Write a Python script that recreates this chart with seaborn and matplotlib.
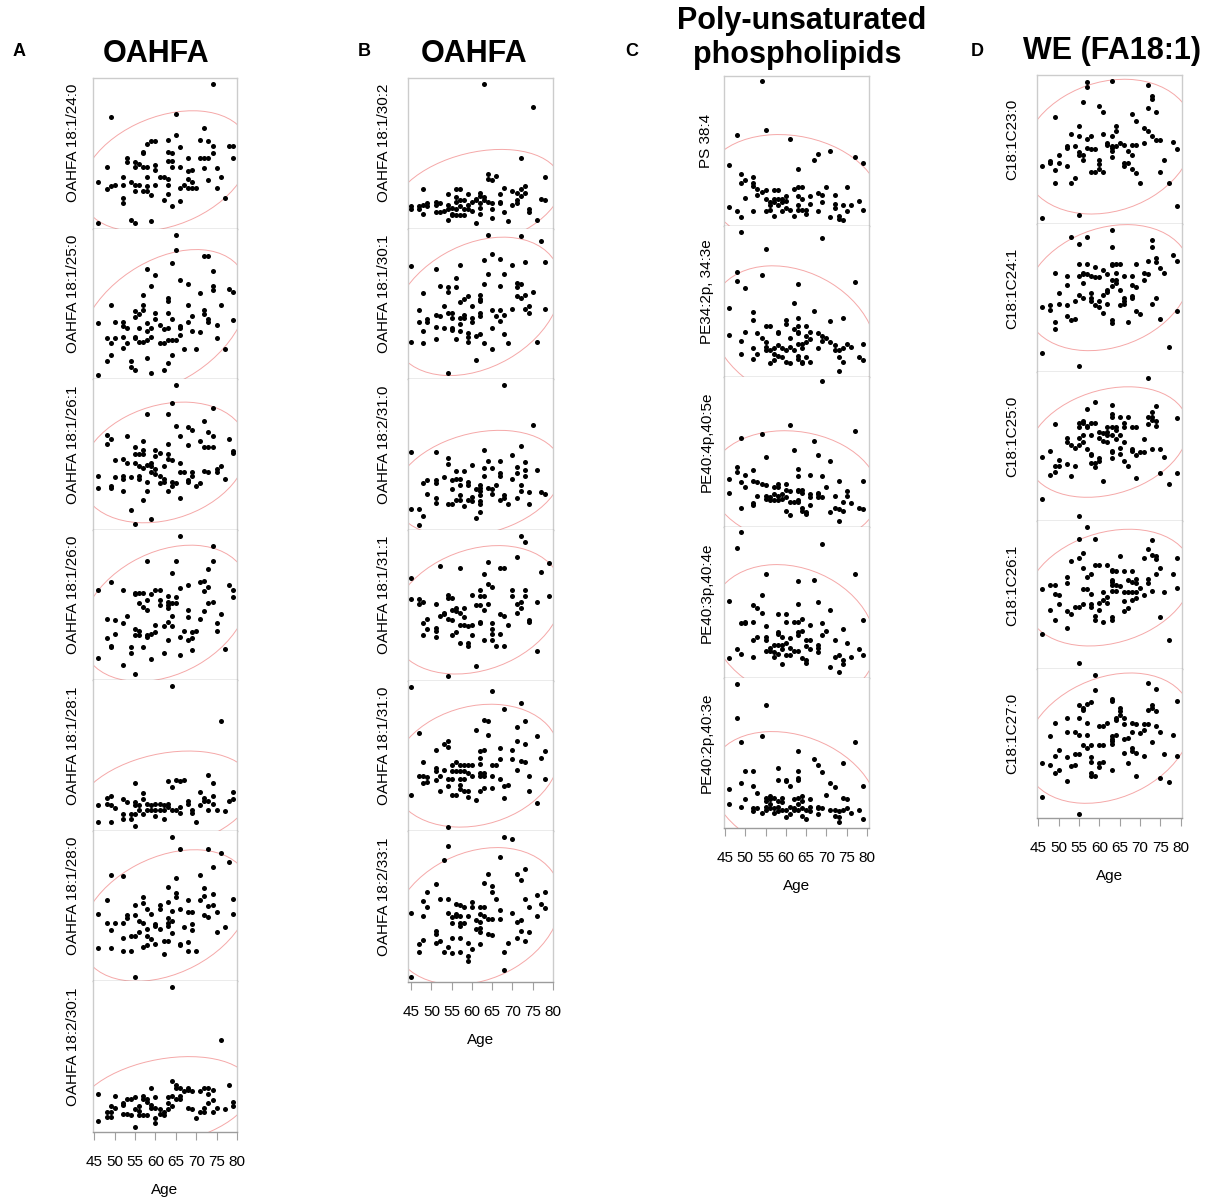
import numpy as np
import matplotlib
matplotlib.use("Agg")
import matplotlib.pyplot as plt
from matplotlib.patches import Ellipse
import seaborn as sns

# ---------------- data: (age, relative level 0-100) per panel ----------------
A1 = [(74,96),(49,74),(65,76),(72,67),(58,56),(59,58),(60,58),(63,59),(65,62),(66,54),(71,59),(73,58),(74,55),(78,55),(79,55),(57,50),(57,51),(53,47),(53,44),(63,51),(64,50),(63,45),(64,45),(68,47),(71,47),(72,47),(73,47),(74,50),(79,47),(48,41),(55,44),(56,43),(55,41),(57,41),(58,41),(60,42),(60,39),(64,41),(66,41),(69,39),(68,38),(72,40),(75,40),(52,34),(58,34),(61,34),(62,34),(63,33),(68,33),(69,31),(73,32),(76,34),(46,31),(50,29),(49,28),(48,26),(54,31),(55,29),(56,29),(58,28),(60,29),(63,29),(67,29),(52,29),(55,25),(57,25),(58,25),(66,27),(68,27),(69,27),(70,27),(75,27),(59,22),(62,19),(63,23),(52,20),(52,17),(64,15),(66,18),(77,20),(54,6),(55,4),(59,5),(46,4)]
A2 = [(65,96),(65,86),(72,82),(73,82),(64,77),(58,73),(60,69),(74,72),(66,66),(59,62),(68,63),(74,62),(74,59),(78,60),(79,58),(71,57),(57,56),(63,54),(63,52),(49,49),(57,49),(57,46),(68,49),(76,49),(55,45),(56,43),(55,41),(60,44),(63,44),(72,46),(72,43),(69,42),(68,38),(73,40),(73,38),(79,39),(60,40),(64,40),(46,37),(50,38),(52,38),(52,35),(53,34),(58,37),(61,36),(62,33),(66,35),(66,34),(56,34),(58,32),(59,34),(63,34),(69,32),(71,31),(75,36),(48,27),(49,24),(50,27),(52,28),(52,21),(53,24),(55,28),(55,27),(56,25),(57,25),(58,26),(59,28),(61,24),(62,24),(63,26),(64,26),(65,26),(66,29),(67,20),(70,20),(75,27),(77,20),(48,12),(49,16),(58,14),(54,12),(54,8),(55,6),(59,4),(62,6),(63,11),(64,16),(46,3)]
A3 = [(65,96),(64,84),(74,81),(58,77),(63,77),(72,72),(65,69),(68,68),(69,66),(73,65),(74,62),(66,62),(48,63),(49,60),(48,57),(53,62),(71,59),(78,60),(57,59),(55,55),(57,53),(63,57),(68,56),(72,55),(73,55),(74,55),(79,52),(79,51),(55,50),(56,50),(57,50),(60,53),(60,49),(61,51),(63,50),(63,47),(64,46),(50,46),(52,47),(53,44),(55,44),(56,42),(58,43),(59,44),(59,42),(57,41),(60,40),(60,37),(62,42),(66,44),(76,42),(75,40),(46,36),(50,35),(52,36),(52,34),(54,35),(56,36),(56,34),(59,38),(58,32),(61,36),(62,34),(62,32),(61,31),(64,32),(65,31),(64,29),(66,38),(67,38),(69,38),(69,36),(68,33),(68,32),(72,39),(73,38),(75,38),(77,34),(46,28),(49,29),(49,28),(52,26),(58,26),(63,26),(70,29),(71,31),(57,20),(66,21),(54,13),(59,7),(55,4)]
A4 = [(66,96),(74,89),(58,79),(65,79),(64,71),(74,79),(73,74),(71,65),(72,66),(46,60),(49,65),(52,60),(55,58),(55,57),(56,58),(57,58),(59,57),(60,60),(61,60),(66,61),(68,63),(72,59),(73,62),(78,63),(79,60),(79,55),(58,53),(56,51),(57,49),(58,47),(61,53),(61,50),(63,56),(63,52),(63,50),(63,48),(64,51),(65,51),(64,43),(65,55),(74,52),(73,51),(72,46),(76,44),(68,47),(68,42),(71,41),(48,41),(50,40),(52,38),(53,43),(60,37),(63,39),(64,36),(75,38),(75,33),(55,34),(56,33),(55,30),(56,30),(58,30),(58,29),(59,31),(60,32),(62,36),(67,33),(69,32),(70,33),(66,29),(68,27),(69,28),(63,27),(48,28),(49,23),(49,22),(50,31),(54,22),(54,18),(57,22),(69,20),(77,21),(62,18),(66,17),(59,14),(46,15),(52,10),(55,4)]
A5 = [(64,96),(76,73),(55,32),(63,33),(65,34),(66,33),(67,34),(64,29),(73,37),(74,32),(79,26),(78,20),(79,21),(71,26),(74,23),(72,22),(72,20),(73,20),(74,18),(48,22),(49,23),(48,18),(49,17),(50,15),(46,17),(52,21),(53,19),(52,11),(52,8),(55,19),(55,17),(57,25),(57,21),(56,17),(56,14),(58,18),(59,17),(60,18),(61,18),(62,17),(63,18),(63,16),(58,14),(59,14),(60,14),(61,14),(62,14),(64,14),(65,14),(66,16),(66,12),(68,20),(68,18),(69,14),(69,12),(71,17),(73,14),(75,14),(77,13),(54,11),(54,8),(57,11),(55,11),(60,10),(62,8),(46,6),(49,6),(70,6),(55,3)]
A6 = [(64,96),(66,88),(73,88),(76,85),(78,79),(74,76),(49,71),(52,70),(71,71),(65,69),(63,63),(72,62),(72,57),(74,58),(65,59),(65,56),(48,54),(57,56),(57,52),(61,51),(61,48),(63,53),(68,54),(71,54),(73,50),(74,51),(79,55),(79,45),(66,48),(68,46),(69,46),(64,47),(72,44),(73,43),(75,46),(46,45),(55,51),(55,44),(53,44),(53,42),(58,48),(59,45),(56,40),(57,39),(60,38),(60,37),(61,35),(63,42),(63,39),(64,40),(63,37),(48,39),(50,39),(52,39),(49,34),(67,36),(69,38),(69,34),(77,36),(75,33),(58,35),(58,30),(59,28),(60,25),(56,33),(55,30),(54,30),(52,29),(62,27),(63,27),(64,32),(66,25),(66,24),(68,26),(57,23),(58,24),(46,22),(49,22),(52,20),(54,20),(68,20),(70,20),(62,18),(55,3)]
A7 = [(64,96),(76,61),(68,28),(64,34),(65,31),(65,29),(78,31),(66,29),(67,27),(68,29),(59,29),(64,24),(63,23),(66,24),(66,22),(65,22),(69,27),(71,27),(72,29),(73,29),(74,28),(73,25),(74,21),(73,19),(46,25),(50,24),(52,19),(52,18),(53,22),(54,22),(55,23),(57,24),(57,22),(58,22),(58,20),(60,23),(59,18),(60,16),(49,17),(50,16),(48,13),(48,10),(49,13),(49,10),(52,12),(53,12),(54,11),(55,15),(56,17),(56,14),(56,11),(57,11),(58,11),(59,16),(61,15),(61,12),(62,11),(63,15),(62,13),(63,19),(64,17),(60,9),(60,6),(68,16),(69,15),(70,9),(71,13),(72,13),(72,16),(74,13),(75,16),(77,15),(79,20),(79,17),(46,7),(55,3)]

B1 = [(63,96),(75,81),(72,47),(64,36),(64,33),(65,32),(66,35),(78,34),(48,26),(67,23),(68,27),(70,25),(71,24),(72,26),(73,28),(73,24),(54,23),(56,26),(57,26),(56,21),(59,23),(61,20),(62,24),(62,22),(63,21),(45,15),(45,13),(47,15),(47,13),(48,16),(49,17),(49,15),(48,10),(51,18),(51,16),(52,17),(52,11),(51,11),(53,12),(54,13),(54,16),(55,14),(55,10),(56,18),(57,19),(56,13),(57,15),(57,9),(58,19),(58,13),(58,9),(59,16),(59,13),(60,18),(60,12),(61,19),(62,17),(62,14),(62,10),(63,19),(64,18),(65,17),(56,9),(55,9),(65,13),(65,7),(67,18),(67,17),(68,11),(70,16),(71,17),(71,19),(72,22),(74,13),(74,11),(77,20),(78,19),(54,6),(61,4),(69,5),(76,6)]
B2 = [(64,96),(72,95),(77,92),(45,75),(51,73),(57,76),(63,79),(65,83),(67,80),(70,76),(73,78),(78,78),(64,70),(68,70),(56,67),(63,63),(67,62),(52,62),(54,61),(54,58),(56,61),(48,57),(71,64),(72,63),(71,61),(71,55),(72,54),(75,58),(73,56),(62,56),(62,53),(62,52),(59,55),(58,53),(57,51),(60,49),(53,49),(47,46),(65,46),(67,46),(70,47),(73,47),(74,49),(74,44),(78,47),(51,43),(52,42),(54,44),(55,44),(55,41),(57,41),(58,43),(58,41),(60,41),(60,38),(62,44),(62,42),(66,42),(67,39),(68,43),(47,38),(49,40),(49,38),(51,35),(53,34),(55,34),(55,33),(57,37),(57,32),(48,32),(65,34),(68,30),(59,31),(59,28),(59,25),(61,29),(62,30),(51,27),(45,25),(48,24),(56,27),(63,24),(65,20),(69,24),(76,25),(61,13),(54,4)]
B3 = [(68,96),(75,70),(72,56),(45,52),(51,52),(63,53),(54,48),(54,44),(70,50),(73,45),(73,40),(73,36),(71,42),(71,38),(60,43),(64,46),(63,41),(65,41),(63,36),(67,46),(67,38),(67,36),(76,40),(56,39),(58,39),(57,34),(53,35),(48,31),(49,33),(51,33),(51,31),(55,33),(55,27),(56,34),(57,30),(59,32),(59,30),(62,30),(62,28),(62,26),(62,23),(61,27),(64,28),(65,27),(65,24),(66,30),(70,34),(72,30),(72,26),(74,25),(77,25),(78,24),(49,24),(51,21),(54,17),(55,17),(56,20),(57,23),(57,20),(58,16),(59,20),(60,19),(60,22),(51,18),(62,19),(62,17),(62,12),(67,20),(68,21),(68,23),(69,17),(71,21),(74,17),(61,8),(45,14),(47,14),(48,9),(47,3)]
B4 = [(72,96),(73,92),(71,82),(79,78),(52,76),(57,75),(64,79),(67,75),(68,75),(77,72),(63,71),(45,68),(64,64),(65,62),(62,60),(62,56),(63,56),(70,60),(70,56),(73,60),(73,56),(72,52),(79,56),(76,52),(54,57),(54,55),(55,55),(60,57),(45,54),(47,54),(47,51),(48,52),(51,51),(61,50),(62,50),(63,47),(64,51),(71,51),(72,48),(71,45),(55,47),(56,48),(56,46),(57,45),(58,48),(58,42),(53,45),(53,44),(52,43),(54,41),(55,40),(49,41),(48,38),(49,34),(67,44),(68,43),(69,37),(65,38),(62,39),(62,38),(60,37),(57,37),(58,37),(59,36),(56,32),(55,30),(51,35),(51,33),(51,29),(48,30),(60,30),(65,34),(65,31),(67,31),(74,40),(74,39),(57,25),(59,25),(59,23),(63,27),(65,27),(66,23),(68,23),(76,20),(61,10),(54,3)]
B5 = [(45,96),(65,93),(72,85),(68,81),(63,74),(64,73),(71,69),(73,73),(47,65),(61,67),(64,64),(76,63),(71,60),(73,58),(53,58),(54,60),(54,56),(51,54),(67,55),(70,54),(70,48),(62,53),(63,54),(62,49),(77,49),(78,53),(48,46),(72,47),(73,46),(55,44),(56,46),(57,44),(58,44),(59,44),(60,44),(62,45),(65,44),(66,44),(67,48),(51,42),(51,40),(53,41),(55,40),(56,40),(57,40),(58,40),(59,39),(60,37),(62,39),(62,37),(63,39),(63,37),(71,41),(47,37),(48,37),(49,36),(48,32),(49,33),(52,37),(51,34),(54,35),(55,35),(65,37),(74,37),(78,35),(57,35),(57,31),(58,35),(67,35),(54,30),(52,27),(57,28),(58,27),(59,27),(63,29),(62,27),(65,29),(68,30),(69,31),(74,27),(55,24),(56,24),(59,23),(61,21),(68,22),(45,24),(76,19),(54,3)]
B6 = [(68,96),(70,95),(54,90),(67,83),(53,81),(71,72),(72,68),(73,75),(64,72),(63,66),(65,64),(65,60),(51,65),(49,60),(76,58),(78,60),(48,54),(49,50),(52,55),(54,55),(60,53),(60,50),(66,55),(73,55),(74,50),(77,52),(78,49),(56,52),(57,51),(58,50),(62,50),(63,50),(62,45),(63,44),(45,46),(54,46),(55,43),(56,45),(56,44),(57,44),(59,44),(64,42),(65,42),(67,48),(67,42),(70,46),(76,44),(48,44),(55,39),(57,39),(57,37),(58,39),(61,41),(62,40),(62,36),(62,33),(71,40),(72,41),(51,34),(51,32),(52,27),(51,26),(47,25),(48,28),(47,20),(61,35),(64,32),(65,31),(72,34),(74,33),(71,29),(73,27),(55,29),(57,29),(54,23),(55,19),(53,20),(57,20),(59,26),(59,17),(59,14),(60,22),(62,25),(69,26),(68,20),(68,8),(45,3)]

C1 = [(54,97),(48,61),(55,64),(61,58),(46,41),(67,44),(68,48),(71,50),(77,46),(79,42),(63,38),(49,35),(49,29),(50,31),(52,33),(52,29),(52,27),(53,25),(54,23),(55,24),(57,24),(58,24),(53,21),(50,19),(55,18),(56,16),(57,18),(58,18),(59,18),(60,20),(62,25),(63,26),(64,26),(63,20),(64,18),(66,20),(68,22),(69,21),(70,26),(69,16),(72,21),(75,26),(56,14),(57,16),(58,14),(59,16),(60,17),(55,10),(56,11),(57,7),(59,10),(60,12),(61,11),(63,14),(63,11),(64,11),(65,11),(66,15),(65,8),(62,7),(68,10),(72,15),(72,12),(74,14),(75,10),(76,14),(78,17),(79,11),(46,13),(48,10),(49,6),(52,10),(71,6),(73,7),(73,5),(74,4)]
C2 = [(49,96),(69,92),(55,85),(48,70),(48,64),(50,59),(54,68),(63,62),(77,63),(46,46),(62,49),(67,44),(52,43),(52,38),(71,37),(74,39),(60,38),(63,39),(63,34),(55,34),(56,34),(58,30),(58,29),(60,35),(62,32),(63,30),(63,29),(65,34),(66,30),(65,27),(46,28),(50,30),(53,29),(68,29),(69,27),(70,26),(49,24),(54,26),(55,23),(61,26),(66,25),(52,19),(55,20),(55,18),(56,18),(57,19),(58,21),(59,19),(60,18),(61,20),(62,18),(63,22),(64,22),(65,23),(64,19),(68,19),(69,24),(71,23),(72,21),(72,18),(73,18),(74,19),(75,22),(76,20),(79,22),(49,15),(53,15),(52,12),(57,15),(58,14),(59,13),(56,9),(57,11),(60,10),(61,9),(63,14),(63,12),(64,10),(64,9),(65,13),(66,10),(73,13),(74,10),(78,13),(79,11),(73,4)]
C3 = [(69,97),(61,68),(54,62),(77,64),(49,59),(67,57),(62,51),(68,48),(55,47),(71,44),(48,40),(48,37),(52,38),(63,39),(63,34),(66,35),(69,34),(46,32),(49,30),(50,35),(50,27),(52,31),(53,30),(54,29),(55,28),(57,27),(58,29),(58,27),(60,29),(60,25),(63,25),(63,24),(64,25),(64,23),(61,24),(68,23),(68,22),(70,27),(73,31),(79,31),(46,23),(53,21),(55,21),(55,19),(56,20),(56,18),(57,18),(58,18),(57,22),(58,21),(59,22),(59,19),(60,20),(62,17),(63,18),(63,17),(61,17),(66,22),(66,20),(69,20),(68,20),(72,21),(75,24),(75,21),(74,17),(76,16),(52,16),(52,15),(49,13),(60,11),(61,8),(64,13),(64,11),(65,10),(65,9),(66,15),(71,10),(72,13),(73,12),(73,4),(74,11),(78,13),(79,12)]
C4 = [(49,97),(48,86),(69,89),(55,69),(77,69),(63,64),(67,65),(54,55),(46,51),(63,49),(68,50),(52,48),(53,46),(54,43),(71,45),(58,42),(60,42),(49,36),(50,37),(50,36),(52,37),(55,34),(62,37),(63,37),(64,39),(60,37),(66,35),(69,36),(79,38),(58,30),(58,29),(59,27),(61,26),(60,23),(63,30),(63,28),(64,31),(55,27),(55,25),(52,25),(53,27),(69,28),(70,31),(74,32),(65,25),(66,25),(72,25),(75,23),(57,22),(58,22),(59,22),(55,18),(56,20),(56,18),(57,17),(58,16),(59,19),(61,20),(62,18),(63,18),(60,15),(61,15),(65,21),(66,19),(68,22),(68,20),(68,17),(48,19),(49,16),(46,13),(52,14),(57,14),(59,9),(64,13),(65,12),(65,10),(71,7),(72,14),(73,15),(73,4),(74,12),(74,9),(76,14),(78,19),(79,15)]
C5 = [(48,96),(48,73),(55,82),(54,61),(49,57),(77,57),(63,51),(67,46),(68,42),(69,37),(74,43),(58,40),(58,32),(50,38),(52,38),(63,38),(63,33),(63,32),(60,32),(60,31),(61,28),(49,30),(52,28),(71,30),(72,27),(79,28),(46,26),(53,23),(70,22),(50,19),(55,20),(55,18),(56,21),(56,19),(57,20),(58,18),(59,20),(59,17),(62,19),(63,20),(64,21),(64,18),(66,19),(74,20),(75,19),(46,16),(49,14),(52,13),(53,13),(52,11),(54,10),(55,14),(55,12),(56,16),(56,13),(57,13),(57,10),(58,14),(58,11),(59,12),(60,12),(61,14),(61,9),(60,7),(62,13),(62,12),(63,16),(63,12),(64,13),(64,8),(65,12),(65,6),(66,14),(66,11),(68,14),(68,13),(69,13),(68,9),(71,12),(72,12),(72,8),(73,11),(73,7),(73,4),(74,12),(75,13),(76,10),(78,12),(79,6)]

D1 = [(57,95),(57,92),(63,96),(72,93),(73,86),(73,84),(56,82),(49,72),(60,79),(61,75),(68,74),(69,69),(72,78),(74,75),(55,66),(55,59),(53,60),(64,66),(64,62),(63,59),(61,60),(58,59),(57,57),(71,64),(72,62),(73,59),(74,56),(75,56),(78,55),(79,50),(52,52),(52,51),(54,52),(57,51),(58,50),(59,50),(62,54),(62,53),(63,52),(63,51),(63,49),(64,52),(65,54),(66,53),(67,49),(68,53),(69,53),(71,54),(55,48),(55,46),(56,46),(56,43),(50,46),(50,41),(48,42),(48,41),(46,39),(49,36),(52,39),(60,43),(60,40),(63,45),(66,41),(66,39),(67,41),(68,46),(68,37),(69,34),(76,43),(75,35),(58,35),(59,35),(60,37),(61,35),(54,31),(53,27),(49,27),(70,27),(77,27),(79,12),(55,6),(46,4)]
D2 = [(63,96),(53,91),(57,91),(55,86),(63,84),(73,89),(73,84),(78,79),(79,75),(72,75),(74,77),(74,74),(55,73),(57,73),(59,71),(63,73),(63,72),(64,73),(65,73),(69,73),(71,67),(72,66),(75,70),(76,67),(49,67),(52,65),(52,59),(55,65),(56,66),(56,67),(57,66),(58,65),(59,64),(60,64),(61,69),(56,60),(62,66),(64,67),(66,65),(68,65),(63,62),(64,62),(64,60),(71,62),(68,59),(69,57),(63,58),(62,54),(50,53),(50,46),(52,45),(46,44),(48,45),(48,42),(54,48),(55,52),(56,50),(58,53),(58,50),(59,45),(58,48),(61,52),(62,55),(60,48),(60,44),(62,46),(65,55),(66,50),(66,48),(66,46),(65,45),(68,51),(68,50),(73,46),(74,50),(69,41),(70,39),(79,41),(61,40),(49,34),(49,29),(52,38),(53,35),(54,36),(63,35),(63,33),(67,34),(75,36),(77,17),(46,13),(55,4)]
D3 = [(72,96),(59,80),(57,75),(63,78),(74,77),(73,73),(72,70),(73,70),(73,68),(63,72),(63,70),(65,70),(67,70),(79,69),(49,65),(55,66),(55,63),(56,67),(56,66),(57,64),(57,63),(58,66),(59,66),(66,66),(66,63),(68,63),(69,63),(72,65),(74,67),(74,64),(62,63),(63,63),(64,63),(64,61),(56,58),(58,58),(60,60),(60,56),(61,59),(62,60),(62,58),(63,58),(65,58),(66,53),(55,56),(56,53),(61,54),(62,53),(64,55),(52,56),(52,53),(53,51),(54,49),(55,51),(57,48),(58,44),(58,45),(59,39),(59,36),(60,42),(60,40),(63,47),(63,46),(63,42),(65,49),(65,45),(68,48),(68,47),(69,44),(70,46),(71,46),(71,55),(73,48),(75,48),(76,43),(66,40),(67,37),(46,43),(48,47),(48,31),(49,33),(49,37),(50,37),(50,41),(52,38),(53,30),(54,37),(58,39),(61,27),(69,29),(75,32),(79,32),(77,25),(46,15),(55,3)]
D4 = [(57,96),(55,88),(59,88),(73,87),(72,81),(73,77),(74,76),(74,74),(56,78),(55,75),(65,76),(71,75),(53,73),(79,75),(59,70),(60,70),(62,70),(63,67),(63,66),(64,66),(56,68),(57,62),(58,64),(66,66),(68,66),(67,60),(75,68),(74,64),(78,64),(52,62),(52,58),(48,57),(49,57),(49,51),(46,54),(63,59),(63,60),(63,57),(64,57),(65,56),(68,59),(69,61),(69,58),(72,61),(72,58),(56,54),(57,54),(58,51),(61,52),(62,49),(63,53),(64,53),(66,52),(67,52),(68,52),(69,52),(70,55),(71,50),(73,53),(76,52),(79,55),(50,50),(50,44),(48,40),(49,33),(52,39),(53,37),(54,42),(55,42),(56,44),(58,44),(58,42),(60,45),(60,40),(59,36),(61,47),(62,45),(63,35),(63,33),(66,46),(66,39),(67,41),(68,47),(69,48),(59,33),(61,32),(52,28),(46,24),(75,35),(77,20),(55,4)]
D5 = [(59,96),(72,91),(74,87),(59,86),(63,80),(63,79),(79,79),(55,76),(56,74),(56,73),(57,77),(58,78),(65,74),(65,72),(73,76),(73,74),(72,73),(74,72),(64,67),(64,66),(65,69),(66,67),(66,63),(49,64),(52,67),(55,67),(57,64),(60,62),(61,62),(62,64),(68,64),(69,63),(71,63),(72,63),(74,62),(48,55),(52,58),(54,58),(55,56),(57,56),(63,55),(64,56),(63,53),(63,52),(63,50),(68,58),(70,57),(71,59),(75,58),(78,56),(66,53),(67,54),(56,49),(57,47),(58,49),(60,49),(61,49),(50,46),(49,42),(52,41),(54,43),(55,43),(66,44),(68,47),(68,45),(69,44),(71,42),(73,51),(76,43),(79,42),(46,37),(48,36),(50,32),(49,30),(53,35),(54,36),(58,41),(58,38),(60,37),(60,34),(61,38),(63,32),(67,37),(52,25),(58,30),(58,28),(59,28),(69,28),(75,27),(77,24),(46,14),(55,3)]

A_labels = ["OAHFA 18:1/24:0", "OAHFA 18:1/25:0", "OAHFA 18:1/26:1", "OAHFA 18:1/26:0",
            "OAHFA 18:1/28:1", "OAHFA 18:1/28:0", "OAHFA 18:2/30:1"]
B_labels = ["OAHFA 18:1/30:2", "OAHFA 18:1/30:1", "OAHFA 18:2/31:0", "OAHFA 18:1/31:1",
            "OAHFA 18:1/31:0", "OAHFA 18:2/33:1"]
C_labels = ["PS 38:4", "PE34:2p, 34:3e", "PE40:4p,40:5e", "PE40:3p,40:4e", "PE40:2p,40:3e"]
D_labels = ["C18:1C23:0", "C18:1C24:1", "C18:1C25:0", "C18:1C26:1", "C18:1C27:0"]

x_ticks = [45, 50, 55, 60, 65, 70, 75, 80]

# ---------------- drawing ----------------
sns.set_style("white")
plt.rcParams['font.family'] = ['Liberation Sans', 'DejaVu Sans']
plt.rcParams['text.color'] = 'black'
plt.rcParams['axes.labelcolor'] = 'black'
plt.rcParams['xtick.color'] = 'black'

W, H = 1206, 1203
fig = plt.figure(figsize=(W / 100, H / 100), dpi=100)

columns = [
    dict(data=[A1, A2, A3, A4, A5, A6, A7], labels=A_labels, left=92.7, right=237, top=78, bottom=1132,
         xlim=(44.6, 80.0), gap=12.7),
    dict(data=[B1, B2, B3, B4, B5, B6], labels=B_labels, left=408, right=553, top=78, bottom=982,
         xlim=(44.2, 80.0), gap=17),
    dict(data=[C1, C2, C3, C4, C5], labels=C_labels, left=724, right=869, top=76, bottom=828,
         xlim=(44.75, 80.5), gap=10.5),
    dict(data=[D1, D2, D3, D4, D5], labels=D_labels, left=1037, right=1182, top=75, bottom=818,
         xlim=(44.7, 80.3), gap=18),
]


def conf_ellipse(ax, x, y):
    m = (x.mean(), y.mean())
    cov = np.cov(x, y)
    vals, vecs = np.linalg.eigh(cov)
    order = vals.argsort()[::-1]
    vals, vecs = vals[order], vecs[:, order]
    angle = np.degrees(np.arctan2(vecs[1, 0], vecs[0, 0]))
    k = np.sqrt(5.991)
    e = Ellipse(m, 2 * k * np.sqrt(vals[0]), 2 * k * np.sqrt(vals[1]), angle=angle,
                fill=False, ec='#f5a8a8', lw=0.7, zorder=1)
    ax.add_patch(e)


for col in columns:
    n = len(col['data'])
    h = (col['bottom'] - col['top']) / n
    wpx = col['right'] - col['left']
    for i, (pairs, lab) in enumerate(zip(col['data'], col['labels'])):
        ytop = col['top'] + i * h
        ax = fig.add_axes([col['left'] / W, 1 - (ytop + h) / H, wpx / W, h / H])
        xs = np.array([p[0] for p in pairs], dtype=float)
        ys = np.array([p[1] for p in pairs], dtype=float)
        sns.scatterplot(x=xs, y=ys, ax=ax, color='black', s=13, linewidth=0, legend=False, zorder=3)
        conf_ellipse(ax, xs, ys)
        ax.set_xlim(*col['xlim'])
        ax.set_ylim(0, 100)
        ax.set_yticks([])
        for s in ['left', 'right', 'top']:
            ax.spines[s].set_color('#cccccc')
            ax.spines[s].set_linewidth(1.0)
        ax.spines['bottom'].set_color('#9c9c9c')
        ax.spines['bottom'].set_linewidth(1.0)
        if i > 0:
            ax.spines['top'].set_visible(False)
        ax.set_ylabel(lab, fontsize=11, color='black')
        ax.yaxis.set_label_coords(-col['gap'] / wpx, 0.567)
        if i == n - 1:
            ax.set_xticks(x_ticks)
            ax.set_xticklabels([str(t) for t in x_ticks])
            ax.tick_params(axis='x', bottom=True, length=5.8, width=0.8, color='#a0a0a0',
                           pad=10.5, labelsize=11, labelcolor='black')
            ax.set_xlabel('Age', fontsize=11, labelpad=10, color='black')
        else:
            ax.set_xticks([])
            ax.set_xlabel('')


def ftext(x, y, s, **kw):
    fig.text(x / W, 1 - y / H, s, color='black', **kw)


for letter, x in [('A', 19), ('B', 364), ('C', 632), ('D', 977)]:
    ftext(x, 56.5, letter, fontsize=13, fontweight='bold', ha='center', va='baseline')

ftext(156, 62.5, 'OAHFA', fontsize=22, fontweight='bold', ha='center', va='baseline')
ftext(474, 62.5, 'OAHFA', fontsize=22, fontweight='bold', ha='center', va='baseline')
ftext(802, 29, 'Poly-unsaturated', fontsize=22, fontweight='bold', ha='center', va='baseline')
ftext(797, 63, 'phospholipids', fontsize=22, fontweight='bold', ha='center', va='baseline')
ftext(1112, 59.5, 'WE (FA18:1)', fontsize=22, fontweight='bold', ha='center', va='baseline')

fig.savefig('out.png', dpi=100)
